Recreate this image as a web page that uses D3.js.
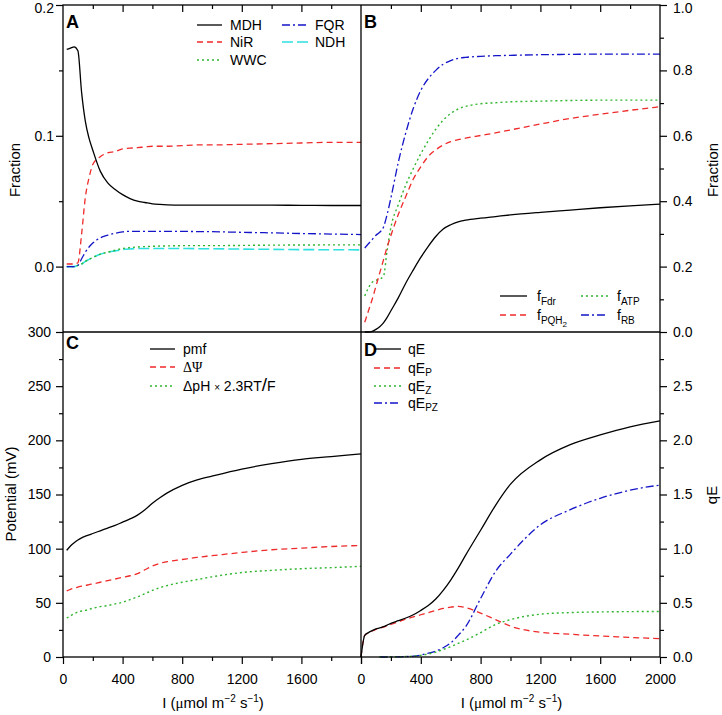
<!DOCTYPE html>
<html><head><meta charset="utf-8">
<script src="https://cdn.jsdelivr.net/npm/d3@7"></script>
<style>
html,body{margin:0;padding:0;background:#fff;}
text{font-family:"Liberation Sans",Arial,sans-serif;fill:#000;}
</style></head>
<body><svg id="c" width="722" height="715"></svg>
<script>
// ---------- data ----------
const light = [25,50,75,100,125,150,175,200,250,300,350,400,450,500,550,600,650,700,800,900,1000,1200,1400,1600,1800,2000];
const lightD = [0].concat(light);

// Panel A
const MDH = [0.166,0.167,0.168,0.165,0.133,0.111,0.098,0.089,0.073,0.064,0.059,0.055,0.052,0.050,0.049,0.048,0.0475,0.0472,0.047,0.047,0.047,0.047,0.047,0.0468,0.0467,0.0467];
const NiR = [0.002,0.002,0.002,0.003,0.025,0.053,0.068,0.078,0.084,0.087,0.088,0.090,0.0905,0.091,0.0915,0.092,0.092,0.092,0.0925,0.093,0.093,0.0935,0.094,0.0945,0.095,0.095];
const WWC = [0,0,0,0.001,0.002,0.004,0.0055,0.007,0.0095,0.011,0.0125,0.0138,0.0145,0.015,0.0153,0.0155,0.0157,0.0158,0.016,0.016,0.016,0.0162,0.0164,0.0165,0.0166,0.0166];
const FQR = [0,0,0,0.001,0.006,0.011,0.015,0.018,0.022,0.024,0.0255,0.0265,0.027,0.027,0.027,0.027,0.027,0.027,0.0269,0.0268,0.0267,0.0262,0.0258,0.0253,0.0249,0.0245];
const NDH = [0,0,0,0.001,0.002,0.004,0.0055,0.007,0.0095,0.011,0.012,0.013,0.0135,0.0138,0.0138,0.0138,0.0138,0.0138,0.0138,0.0137,0.0136,0.0134,0.0132,0.013,0.0129,0.0128];

// Panel B
const fFdr = [0,0,0.002,0.008,0.016,0.028,0.045,0.065,0.105,0.150,0.190,0.228,0.262,0.292,0.315,0.328,0.337,0.342,0.348,0.353,0.358,0.366,0.373,0.380,0.386,0.391];
const fPQH2 = [0.03,0.065,0.10,0.14,0.18,0.22,0.26,0.295,0.36,0.415,0.468,0.505,0.537,0.557,0.572,0.582,0.588,0.593,0.601,0.609,0.618,0.636,0.653,0.666,0.678,0.689];
const fATP = [0.11,0.135,0.152,0.158,0.162,0.17,0.25,0.32,0.39,0.45,0.50,0.545,0.585,0.62,0.648,0.668,0.682,0.69,0.698,0.701,0.704,0.706,0.708,0.709,0.709,0.709];
const fRB = [0.257,0.27,0.283,0.296,0.305,0.32,0.36,0.41,0.52,0.61,0.684,0.739,0.775,0.80,0.819,0.83,0.837,0.84,0.843,0.845,0.846,0.848,0.849,0.85,0.85,0.85];

// Panel C
const pmf = [98.5,102.5,105.5,108,110,111.5,112.8,114,116.5,119,121.5,124.5,127.5,131,136,142,147,151.5,158.5,163.5,167,173.5,178.5,182.5,185,187.5];
const dPsi = [61,62.5,63.5,64.5,65.5,66,66.8,67.5,69,70.5,72,73.5,75,77,80.5,84,86.5,88,90,92,93.5,96.5,99,100.5,102,103];
const dpH = [36,38,40,41.5,42.5,43,44,45,46.5,47.5,49,50.5,53,55.5,58.5,61.5,64,66,69,71.5,74,78,80,81.5,82.5,83.7];

// Panel D
const qE = [0,0.2,0.225,0.243,0.26,0.268,0.28,0.295,0.31,0.335,0.36,0.39,0.43,0.475,0.535,0.615,0.71,0.82,0.94,1.17,1.40,1.595,1.82,1.96,2.05,2.125,2.18];
const qEP = [0,0.2,0.222,0.24,0.255,0.265,0.275,0.288,0.3,0.325,0.35,0.37,0.39,0.41,0.43,0.448,0.46,0.467,0.455,0.405,0.345,0.285,0.228,0.21,0.194,0.181,0.169];
const qEZ = [null,null,null,null,null,0,0.001,0.001,0.002,0.003,0.005,0.008,0.015,0.028,0.045,0.07,0.095,0.125,0.155,0.225,0.30,0.345,0.395,0.41,0.416,0.419,0.42];
const qEPZ = [null,null,null,null,null,0,0,0,0.001,0.002,0.004,0.008,0.018,0.035,0.055,0.085,0.13,0.2,0.28,0.54,0.79,0.95,1.22,1.36,1.465,1.54,1.587];

// Ticks
const xMajor = [0,400,800,1200,1600,2000];
const xMinor = [200,600,1000,1400,1800];
const yATicks = [0,0.1,0.2], yAMinor = [0.05,0.15];
const yBTicks = [0,0.2,0.4,0.6,0.8,1.0], yBMinor = [0.1,0.3,0.5,0.7,0.9];
const yCTicks = [0,50,100,150,200,250,300], yCMinor = [25,75,125,175,225,275];
const yDTicks = [0,0.5,1.0,1.5,2.0,2.5], yDMinor = [0.25,0.75,1.25,1.75,2.25,2.75];

// ---------- layout ----------
const L=63, M=361, R=660, T=5, MID=332, B=657;
const svg = d3.select("#c");
const xA = d3.scaleLinear([0,2000],[L,M]);
const xB = d3.scaleLinear([0,2000],[M,R]);
const yA = d3.scaleLinear([-0.05,0.2],[MID,T]);
const yB = d3.scaleLinear([0,1],[MID,T]);
const yC = d3.scaleLinear([0,300],[B,MID]);
const yD = d3.scaleLinear([0,3],[B,MID]);

const col = {black:"#000", red:"#ee2a2a", green:"#2fb52f", blue:"#1515c8", cyan:"#2ee0e0"};
const dash = {solid:null, dashed:"6,4", dotted:"2,3", dashdot:"8,3,2,3", long:"11,4"};

function drawLine(xs, ys, xsc, ysc, color, da, w){
  const data = xs.map((x,i)=>[x,ys[i]]);
  const ln = d3.line().defined(d=>d[1]!=null).x(d=>xsc(d[0])).y(d=>ysc(d[1])).curve(d3.curveMonotoneX);
  svg.append("path").attr("d", ln(data)).attr("fill","none").attr("stroke",color)
    .attr("stroke-width", w||1.3).attr("stroke-dasharray", da);
}

// lines
drawLine(light, NDH, xA, yA, col.cyan, dash.long, 1.6);
drawLine(light, WWC, xA, yA, col.green, dash.dotted, 1.4);
drawLine(light, FQR, xA, yA, col.blue, dash.dashdot, 1.3);
drawLine(light, NiR, xA, yA, col.red, dash.dashed, 1.3);
drawLine(light, MDH, xA, yA, col.black, dash.solid, 1.3);

drawLine(light, fRB, xB, yB, col.blue, dash.dashdot, 1.3);
drawLine(light, fATP, xB, yB, col.green, dash.dotted, 1.4);
drawLine(light, fPQH2, xB, yB, col.red, dash.dashed, 1.3);
drawLine(light, fFdr, xB, yB, col.black, dash.solid, 1.3);

drawLine(light, dpH, xA, yC, col.green, dash.dotted, 1.4);
drawLine(light, dPsi, xA, yC, col.red, dash.dashed, 1.3);
drawLine(light, pmf, xA, yC, col.black, dash.solid, 1.3);

drawLine(lightD, qEPZ, xB, yD, col.blue, dash.dashdot, 1.3);
drawLine(lightD, qEZ, xB, yD, col.green, dash.dotted, 1.4);
drawLine(lightD, qEP, xB, yD, col.red, dash.dashed, 1.3);
drawLine(lightD, qE, xB, yD, col.black, dash.solid, 1.3);

// frames
const fr = svg.append("g").attr("stroke","#000").attr("stroke-width",1.3).attr("fill","none");
fr.append("rect").attr("x",L).attr("y",T).attr("width",R-L).attr("height",B-T);
fr.append("line").attr("x1",M).attr("x2",M).attr("y1",T).attr("y2",B);
fr.append("line").attr("x1",L).attr("x2",R).attr("y1",MID).attr("y2",MID);

// axes helper
function axis(gen, tx, ty, vals, size, pad, fmt, fs){
  const g = svg.append("g").attr("transform",`translate(${tx},${ty})`)
    .call(gen.tickValues(vals).tickSize(size).tickSizeOuter(0).tickPadding(pad).tickFormat(fmt));
  g.select(".domain").remove();
  g.selectAll("line").attr("stroke","#000").attr("stroke-width",1.2);
  g.selectAll("text").style("font-family","'Liberation Sans',Arial,sans-serif").style("font-size",(fs||14)+"px").attr("fill","#000");
  return g;
}
const none = ()=>"";
const f1 = d3.format(".1f");
// Panel A left
const gA = axis(d3.axisLeft(yA), L, 0, yATicks, 7, 2, f1);
axis(d3.axisLeft(yA), L, 0, yAMinor, 4, 2, none);
// Panel C left
axis(d3.axisLeft(yC), L, 0, yCTicks, 7, 5, d3.format("d"));
axis(d3.axisLeft(yC), L, 0, yCMinor, 4, 2, none);
// Panel B right
const gB = axis(d3.axisRight(yB), R, 0, yBTicks, 7, 6, f1);
axis(d3.axisRight(yB), R, 0, yBMinor, 4, 2, none);
// keep top labels inside the picture
gA.selectAll(".tick").filter(d=>d===0.2).select("text").attr("y",3.5);
gB.selectAll(".tick").filter(d=>d===1.0).select("text").attr("y",3.5);
// Panel D right
axis(d3.axisRight(yD), R, 0, yDTicks, 7, 6, f1);
axis(d3.axisRight(yD), R, 0, yDMinor, 4, 2, none);
// bottom
axis(d3.axisBottom(xA), 0, B, xMajor, 7, 10, d=> d===2000? "" : d);
axis(d3.axisBottom(xA), 0, B, xMinor, 4, 2, none);
axis(d3.axisBottom(xB), 0, B, xMajor, 7, 10, d=>d);
axis(d3.axisBottom(xB), 0, B, xMinor, 4, 2, none);
// top inward
axis(d3.axisBottom(xA), 0, T, xMajor.slice(1,5), 7, 2, none);
axis(d3.axisBottom(xA), 0, T, xMinor, 4, 2, none);
axis(d3.axisBottom(xB), 0, T, xMajor.slice(1,5), 7, 2, none);
axis(d3.axisBottom(xB), 0, T, xMinor, 4, 2, none);

// axis titles
svg.append("text").attr("transform","translate(20,170) rotate(-90)").attr("text-anchor","middle").style("font-size","15px").text("Fraction");
svg.append("text").attr("transform","translate(16,494) rotate(-90)").attr("text-anchor","middle").style("font-size","15px").text("Potential (mV)");
svg.append("text").attr("transform","translate(718,170) rotate(-90)").attr("text-anchor","middle").style("font-size","15px").text("Fraction");
svg.append("text").attr("transform","translate(717,495) rotate(-90)").attr("text-anchor","middle").style("font-size","15px").text("qE");

function xTitle(cx){
  const t = svg.append("text").attr("x",cx).attr("y",708).attr("text-anchor","middle").style("font-size","15px");
  t.append("tspan").text("I (");
  t.append("tspan").style("font-family","'Liberation Serif','Times New Roman',serif").text("μ");
  t.append("tspan").text("mol m");
  t.append("tspan").attr("dy",-6).style("font-size","10px").text("−2");
  t.append("tspan").attr("dy",6).text(" s");
  t.append("tspan").attr("dy",-6).style("font-size","10px").text("−1");
  t.append("tspan").attr("dy",6).text(")");
}
xTitle((L+M)/2+1); xTitle((M+R)/2+1);

// panel letters
[["A",66,28],["B",364,28],["C",66,349],["D",364,356]].forEach(([s,x,y])=>{
  svg.append("text").attr("x",x).attr("y",y).style("font-size","18px").style("font-weight","bold").text(s);
});

// legends
function legItem(x1,x2,y,color,da,w){
  svg.append("line").attr("x1",x1).attr("x2",x2).attr("y1",y).attr("y2",y)
    .attr("stroke",color).attr("stroke-width",w||1.3).attr("stroke-dasharray",da);
}
function legText(x,y,parts){
  const t = svg.append("text").attr("x",x).attr("y",y+5).style("font-size","14px");
  let cur=0;
  parts.forEach(p=>{
    const sp = t.append("tspan").text(p.t);
    const s = p.s||0;
    if(s!==cur){ sp.attr("dy", s-cur); cur=s; }
    if(p.fs) sp.style("font-size",p.fs+"px");
    if(p.ff) sp.style("font-family",p.ff);
  });
  return t;
}
// A legend
legItem(197,222,25,col.black,dash.solid); legText(230,25,[{t:"MDH"}]);
legItem(197,222,42,col.red,dash.dashed); legText(230,42,[{t:"NiR"}]);
legItem(197,222,60,col.green,dash.dotted,1.4); legText(230,60,[{t:"WWC"}]);
legItem(282,308,25,col.blue,dash.dashdot); legText(315,25,[{t:"FQR"}]);
legItem(282,308,42,col.cyan,dash.long,1.6); legText(315,42,[{t:"NDH"}]);
// B legend
legItem(500,527,296,col.black,dash.solid); legText(537,296,[{t:"f"},{t:"Fdr",s:4,fs:10}]);
legItem(500,527,315,col.red,dash.dashed); legText(537,315,[{t:"f"},{t:"PQH",s:4,fs:10},{t:"2",s:7,fs:8}]);
legItem(581,608,296,col.green,dash.dotted,1.4); legText(617,296,[{t:"f"},{t:"ATP",s:4,fs:10}]);
legItem(581,608,315,col.blue,dash.dashdot); legText(617,315,[{t:"f"},{t:"RB",s:4,fs:10}]);
// C legend
legItem(150,175,349,col.black,dash.solid); legText(183,349,[{t:"pmf"}]);
legItem(150,175,367,col.red,dash.dashed); legText(183,367,[{t:"ΔΨ",ff:"'Liberation Serif','Times New Roman',serif"}]);
legItem(150,175,386,col.green,dash.dotted,1.4);
legText(183,386,[{t:"ΔpH "},{t:"×",fs:10},{t:" 2.3RT"},{t:"/",fs:19},{t:"F"}]);
// D legend
legItem(374,401,349,col.black,dash.solid); legText(408,349,[{t:"qE"}]);
legItem(374,401,368,col.red,dash.dashed); legText(408,368,[{t:"qE"},{t:"P",s:3,fs:10}]);
legItem(374,401,386,col.green,dash.dotted,1.4); legText(408,386,[{t:"qE"},{t:"Z",s:3,fs:10}]);
legItem(374,401,403,col.blue,dash.dashdot); legText(408,403,[{t:"qE"},{t:"PZ",s:3,fs:10}]);
</script></body></html>
